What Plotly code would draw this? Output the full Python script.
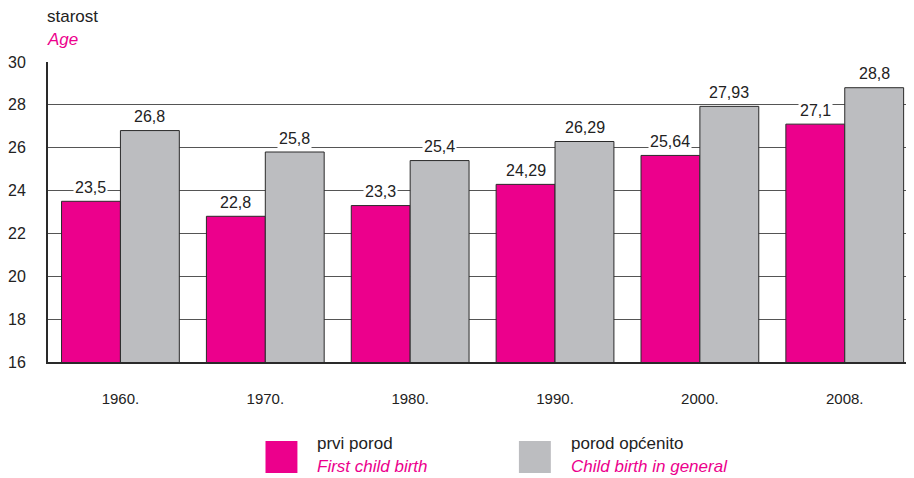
import plotly.graph_objects as go

years = ["1960.", "1970.", "1980.", "1990.", "2000.", "2008."]
first_birth = [23.5, 22.8, 23.3, 24.29, 25.64, 27.1]
any_birth = [26.8, 25.8, 25.4, 26.29, 27.93, 28.8]
y_ticks = [16, 18, 20, 22, 24, 26, 28, 30]

PINK = "#EC008C"
GRAY = "#BCBDC0"
FONT = "Liberation Sans, Arial, sans-serif"

# page body has an 8px default margin; the figure is sized to fit the window
W, H = 906, 470
ML, MR, MT, MB = 38, 0, 54, 116
PW = W - ML - MR
PH = H - MT - MB

fig = go.Figure()
fig.add_trace(go.Bar(x=years, y=first_birth, marker=dict(color=PINK, line=dict(color="#2a2a2a", width=1)),
                     name="prvi porod", showlegend=False))
fig.add_trace(go.Bar(x=years, y=any_birth, marker=dict(color=GRAY, line=dict(color="#2a2a2a", width=1)),
                     name="porod općenito", showlegend=False))

def fmt(v):
    return ("%g" % v).replace(".", ",")

for i, v in enumerate(first_birth):
    fig.add_annotation(x=i, y=v, xref="x", yref="y", text=fmt(v), showarrow=False,
                       xshift=-29.5, yshift=14, bgcolor="white", borderpad=1,
                       font=dict(size=16, color="#222222", family=FONT))
for i, v in enumerate(any_birth):
    fig.add_annotation(x=i, y=v, xref="x", yref="y", text=fmt(v), showarrow=False,
                       xshift=29.5, yshift=14, bgcolor="white", borderpad=1,
                       font=dict(size=16, color="#222222", family=FONT))

# titles
fig.add_annotation(x=0, y=1, xref="paper", yref="paper", xanchor="left", yanchor="bottom",
                   text="starost", showarrow=False, yshift=34, xshift=-3,
                   font=dict(size=17, color="#222222", family=FONT))
fig.add_annotation(x=0, y=1, xref="paper", yref="paper", xanchor="left", yanchor="bottom",
                   text="<i>Age</i>", showarrow=False, yshift=11, xshift=-3,
                   font=dict(size=17, color=PINK, family=FONT))

# legend (custom)
legend_items = [("prvi porod", "First child birth", PINK, 264), ("porod općenito", "Child birth in general", GRAY, 518)]
for name, en, col, px in legend_items:
    fig.add_shape(type="rect", xref="paper", yref="paper",
                  x0=(px - 46) / PW, x1=(px - 46 + 32) / PW,
                  y0=-(473 - 362) / PH, y1=-(441 - 362) / PH,
                  fillcolor=col, line=dict(width=0))
    fig.add_annotation(x=(px - 46 + 50) / PW, y=-(443 - 362) / PH, xref="paper", yref="paper",
                       xanchor="left", yanchor="middle", text=name, showarrow=False,
                       font=dict(size=17, color="#222222", family=FONT))
    fig.add_annotation(x=(px - 46 + 50) / PW, y=-(466 - 362) / PH, xref="paper", yref="paper",
                       xanchor="left", yanchor="middle", text="<i>" + en + "</i>", showarrow=False,
                       font=dict(size=17, color=PINK, family=FONT))

fig.update_layout(
    width=W, height=H,
    margin=dict(l=ML, r=MR, t=MT, b=MB),
    paper_bgcolor="white", plot_bgcolor="white",
    barmode="group", bargap=0.187, bargroupgap=0,
    font=dict(family=FONT, color="#222222", size=15),
    xaxis=dict(type="category", range=[-0.5, 5.478], showline=True, linecolor="#2a2a2a",
               linewidth=2, ticks="", showgrid=False, ticklabelstandoff=22, tickfont=dict(size=15)),
    yaxis=dict(range=[16, 30], tickvals=y_ticks, showgrid=True, gridcolor="#555555", gridwidth=1.3,
               showline=True, linecolor="#2a2a2a", linewidth=2, ticks="", zeroline=False,
               ticklabelstandoff=17, tickfont=dict(size=16)),
)

fig.write_html("out.html")
